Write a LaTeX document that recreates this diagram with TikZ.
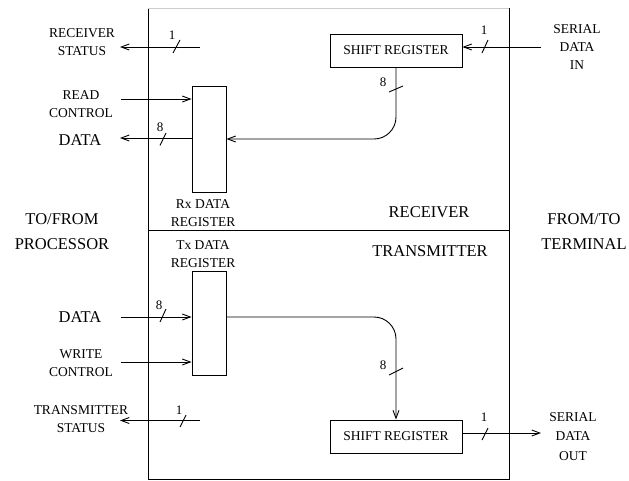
\documentclass[tikz,border=0pt]{standalone}
\usepackage{fontspec}
\setmainfont{Liberation Serif}
\usetikzlibrary{arrows.meta}

\begin{document}
\begin{tikzpicture}[x=1pt,y=-1pt,
        wire/.style={line width=0.9pt,-{Straight Barb[length=8pt,width=6pt]}},
        plain/.style={line width=0.9pt},
        reg/.style={rectangle,draw,line width=0.9pt,inner sep=0pt},
        lbl/.style={align=center,inner sep=0pt,font=\fontsize{13.5}{18}\selectfont},
        big/.style={align=center,inner sep=0pt,font=\fontsize{16.5}{25}\selectfont},
        num/.style={inner sep=0pt,font=\fontsize{13}{15}\selectfont}]
      \useasboundingbox (0,0) rectangle (629,480);
      % frame
      \draw[plain] (148,8) -- (148,479) -- (509,479) -- (509,8);
      \draw[black!20] (148,8) -- (509,8);
      \draw[plain] (148,230) -- (509,230);
      % registers
      \node[reg,minimum width=34pt,minimum height=106pt] (rxreg) at(209,139){};
      \node[reg,minimum width=34pt,minimum height=104pt] (txreg) at(209,323){};
      \node[reg,lbl,minimum width=132pt,minimum height=33pt] (rxsr) at(396,50.5){SHIFT REGISTER};
      \node[reg,lbl,minimum width=132pt,minimum height=33pt] (txsr) at(396,436.5){SHIFT REGISTER};
      % labels
      \node[lbl] (rxstat) at(82,42){RECEIVER\\STATUS};
      \node[lbl] (rdctl)  at(81,104){READ\\CONTROL};
      \node[big] (rxdata) at(80,140.5){DATA};
      \node[lbl] (rxname) at(203,213){Rx DATA\\REGISTER};
      \node[big] (proc)   at(62,231.5){TO/FROM\\PROCESSOR};
      \node[big] (rcv)    at(429,212.5){RECEIVER};
      \node[big] (term)   at(584,231.5){FROM/TO\\TERMINAL};
      \node[lbl] (sdin)   at(577,47.5){SERIAL\\DATA\\IN};
      \node[lbl] (txname) at(203,254.5){Tx DATA\\REGISTER};
      \node[big] (xmt)    at(430,251){TRANSMITTER};
      \node[big] (txdata) at(80,317.5){DATA};
      \node[lbl] (wrctl)  at(81,363){WRITE\\CONTROL};
      \node[lbl] (txstat) at(81,419){TRANSMITTER\\STATUS};
      \node[lbl,font=\fontsize{13.5}{19.5}\selectfont] (sdout) at(573,436.5){SERIAL\\DATA\\OUT};
      % receiver wires
      \coordinate (rsa) at(200,47);
      \coordinate (rsb) at(120,47);
      \draw[wire] (rsa) -- (rsb);
      \coordinate (rca) at(121,99);
      \draw[wire] (rca) -- (rca -| rxreg.west);
      \coordinate (rdo) at(120,138);
      \draw[wire] (rdo -| rxreg.west) -- (rdo);
      \draw[wire,rounded corners=22pt] (rxsr.south) |- (rxreg.east);
      \coordinate (sia) at(541,47);
      \draw[wire] (sia) -- (sia -| rxsr.east);
      % transmitter wires
      \coordinate (tdi) at(121,317);
      \draw[wire] (tdi) -- (tdi -| txreg.west);
      \coordinate (wca) at(121,362);
      \draw[wire] (wca) -- (wca -| txreg.west);
      \draw[wire,rounded corners=22pt] (txreg.east |- tdi) -| (txsr.north);
      \coordinate (tsa) at(200,420.5);
      \coordinate (tsb) at(120,420.5);
      \draw[wire] (tsa) -- (tsb);
      \coordinate (soa) at(541,433);
      \draw[wire] (soa -| txsr.east) -- (soa);
      % bus widths
      \draw[plain] (173,53) -- (180,40);
      \node[num] (w1) at(172,35.5){1};
      \draw[plain] (160,145.5) -- (166,133);
      \node[num] (w2) at(160,127.5){8};
      \draw[plain] (389,92) -- (403,86);
      \node[num] (w3) at(383,82){8};
      \draw[plain] (482,53) -- (488,40);
      \node[num] (w4) at(484,30.5){1};
      \draw[plain] (160,322) -- (166,309);
      \node[num] (w5) at(159,305){8};
      \draw[plain] (389,375) -- (403,368);
      \node[num] (w6) at(383,365){8};
      \draw[plain] (180,427) -- (186,415);
      \node[num] (w7) at(179,410.5){1};
      \draw[plain] (482,440) -- (488,428);
      \node[num] (w8) at(484,417){1};
    \end{tikzpicture}
\end{document}
